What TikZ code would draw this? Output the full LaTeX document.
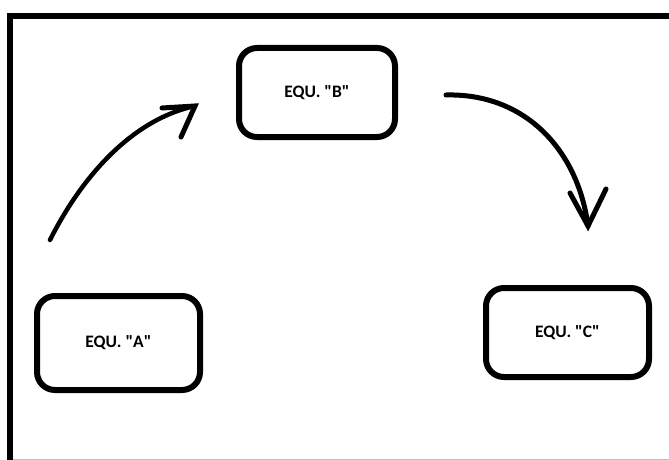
\documentclass[tikz,border=0pt]{standalone}
\usepackage{fontspec}
% plain family (no TeX mapping) so that " stays a straight quote
\newfontfamily\boxfont{Carlito}
\begin{document}
\begin{tikzpicture}[x=1pt,y=-1pt,
  equbox/.style={draw, line width=6pt, rounded corners=18pt, inner sep=0pt,
    font=\boxfont\bfseries\fontsize{17.5}{20}\selectfont},
  stroke/.style={line width=4.5pt, line cap=round, line join=round},
  barb/.style={line width=5pt, line cap=round, line join=miter}]
\useasboundingbox (0,0) rectangle (669,460);
\fill[white] (0,0) rectangle (669,460);

% open frame: left and top edges, faint bottom rule
\draw[line width=6pt] (10,460) -- (10,16) -- (669,16);
\draw[black!25, line width=1pt] (13,459.5) -- (669,459.5);

% equipment boxes
\node[equbox, minimum width=163pt, minimum height=94pt] (A) at (118.5,343) {EQU. "A"};
\node[equbox, minimum width=156pt, minimum height=89pt] (B) at (317,92.5) {EQU. "B"};
\node[equbox, minimum width=163pt, minimum height=89pt] (C) at (567.5,332.5) {EQU. "C"};

% free ends of the hand-drawn arrows
\coordinate (ab0) at (50,240);
\coordinate (ab1) at (195,106);
\coordinate (ab1l) at (162,108);
\coordinate (ab1r) at (181,137);
\coordinate (bc0) at (446,95);
\coordinate (bc1) at (588,226);
\coordinate (bc1l) at (570,193);
\coordinate (bc1r) at (606,189);

% A -> B
\draw[stroke] (ab0) .. controls (80,180) and (130,120) .. (ab1);
\draw[barb] (ab1l) -- (ab1) -- (ab1r);

% B -> C
\draw[stroke, line width=5pt] (bc0) .. controls (525,93) and (578,150) .. (bc1);
\draw[barb] (bc1l) -- (bc1) -- (bc1r);
\end{tikzpicture}
\end{document}
